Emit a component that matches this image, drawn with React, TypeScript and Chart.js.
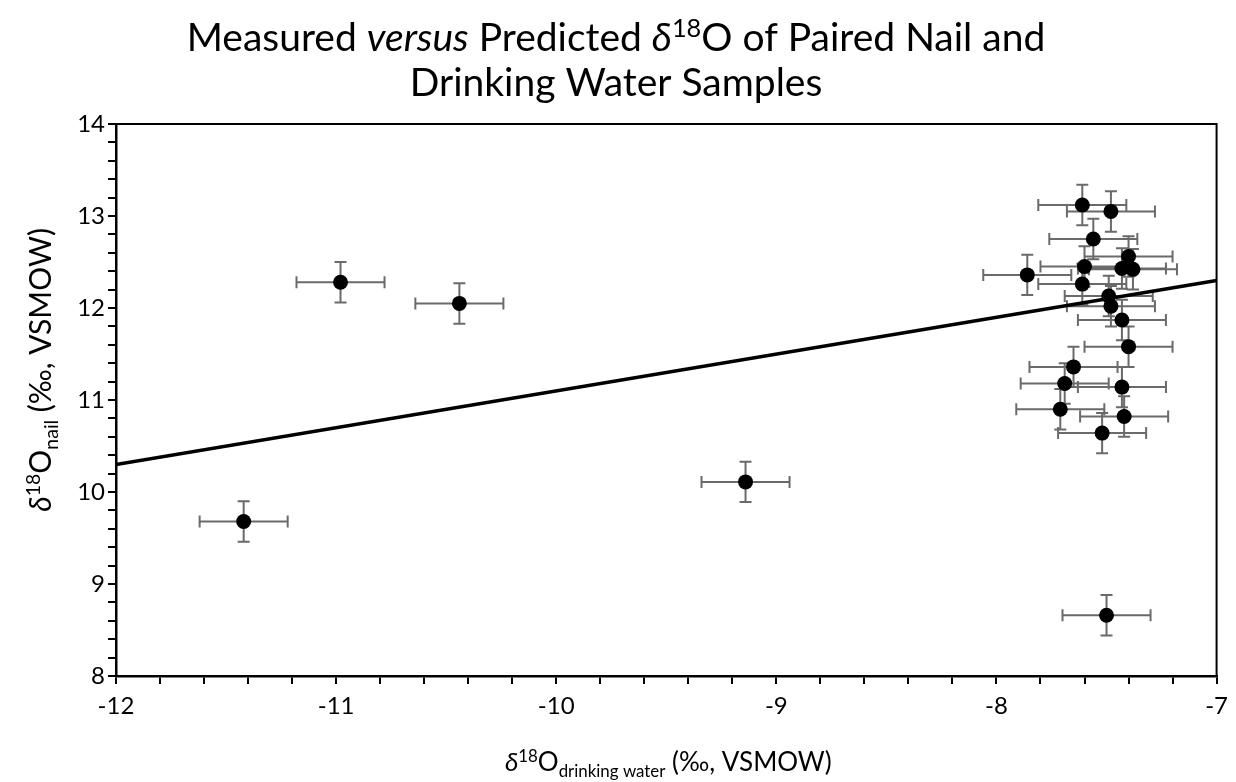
import { useEffect, useRef } from "react";
import { Chart, registerables } from "chart.js";

Chart.register(...registerables);

// Paired samples: drinking-water δ18O (x) and nail δ18O (y), ‰ VSMOW
const waterD18O = [
  -11.42, -10.98, -10.44, -9.14, -7.86, -7.61, -7.48, -7.56, -7.4, -7.6, -7.43, -7.38,
  -7.61, -7.49, -7.48, -7.43, -7.4, -7.65, -7.69, -7.43, -7.71, -7.42, -7.52, -7.5,
];
const nailD18O = [
  9.68, 12.28, 12.05, 10.11, 12.36, 13.12, 13.05, 12.75, 12.56, 12.45, 12.43, 12.42,
  12.26, 12.13, 12.02, 11.87, 11.58, 11.36, 11.18, 11.14, 10.9, 10.82, 10.64, 8.66,
];
// Analytical uncertainty (±1 SD)
const waterSD = 0.2;
const nailSD = 0.22;

// Predicted relationship, end points over the plotted range
const trendX = [-12, -7];
const trendY = [10.3, 12.3];

const xRange = [-12, -7];
const yRange = [8, 14];
const minorStep = 0.2;

const FONT = "Lato, 'Open Sans', 'DejaVu Sans', sans-serif";

type Seg = { t: string; italic?: boolean; mode?: "sup" | "sub" };

const titleLines: Seg[][] = [
  [
    { t: "Measured " },
    { t: "versus", italic: true },
    { t: " Predicted " },
    { t: "δ", italic: true },
    { t: "18", mode: "sup" },
    { t: "O of Paired Nail and" },
  ],
  [{ t: "Drinking Water Samples" }],
];
const xTitle: Seg[] = [
  { t: "δ", italic: true },
  { t: "18", mode: "sup" },
  { t: "O" },
  { t: "drinking water", mode: "sub" },
  { t: " (‰, VSMOW)" },
];
const yTitle: Seg[] = [
  { t: "δ", italic: true },
  { t: "18", mode: "sup" },
  { t: "O" },
  { t: "nail", mode: "sub" },
  { t: " (‰, VSMOW)" },
];

function segFont(seg: Seg, size: number) {
  const s = seg.mode ? size * 0.65 : size;
  return `${seg.italic ? "italic " : ""}${s}px ${FONT}`;
}

function richWidth(ctx: CanvasRenderingContext2D, segs: Seg[], size: number) {
  let w = 0;
  for (const s of segs) {
    ctx.font = segFont(s, size);
    w += ctx.measureText(s.t).width;
  }
  return w;
}

function drawRich(ctx: CanvasRenderingContext2D, segs: Seg[], size: number, cx: number, baseline: number) {
  let x = cx - richWidth(ctx, segs, size) / 2;
  ctx.textAlign = "left";
  ctx.textBaseline = "alphabetic";
  ctx.fillStyle = "#000";
  for (const s of segs) {
    ctx.font = segFont(s, size);
    let y = baseline;
    if (s.mode === "sup") y -= size * 0.36;
    if (s.mode === "sub") y += size * 0.22;
    ctx.fillText(s.t, x, y);
    x += ctx.measureText(s.t).width;
  }
}

const errorBars = {
  id: "errorBars",
  beforeDatasetsDraw(chart: any) {
    const { ctx, scales } = chart;
    const xs = scales.x;
    const ys = scales.y;
    const cap = 6;
    ctx.save();
    ctx.strokeStyle = "#6a6a6a";
    ctx.lineWidth = 2;
    ctx.beginPath();
    waterD18O.forEach((xv, i) => {
      const yv = nailD18O[i];
      const px = xs.getPixelForValue(xv);
      const py = ys.getPixelForValue(yv);
      const x0 = xs.getPixelForValue(xv - waterSD);
      const x1 = xs.getPixelForValue(xv + waterSD);
      const y0 = ys.getPixelForValue(yv - nailSD);
      const y1 = ys.getPixelForValue(yv + nailSD);
      ctx.moveTo(x0, py);
      ctx.lineTo(x1, py);
      ctx.moveTo(x0, py - cap);
      ctx.lineTo(x0, py + cap);
      ctx.moveTo(x1, py - cap);
      ctx.lineTo(x1, py + cap);
      ctx.moveTo(px, y0);
      ctx.lineTo(px, y1);
      ctx.moveTo(px - cap, y0);
      ctx.lineTo(px + cap, y0);
      ctx.moveTo(px - cap, y1);
      ctx.lineTo(px + cap, y1);
    });
    ctx.stroke();
    ctx.restore();
  },
};

const frameAndText = {
  id: "frameAndText",
  afterDraw(chart: any) {
    const { ctx, chartArea, width } = chart;
    ctx.save();
    ctx.strokeStyle = "#000";
    ctx.lineWidth = 2;
    ctx.beginPath();
    ctx.moveTo(chartArea.left, chartArea.top);
    ctx.lineTo(chartArea.right, chartArea.top);
    ctx.lineTo(chartArea.right, chartArea.bottom);
    ctx.stroke();

    drawRich(ctx, titleLines[0], 39, width / 2 - 2, 51);
    drawRich(ctx, titleLines[1], 39, width / 2 - 2, 96);

    const midX = (chartArea.left + chartArea.right) / 2;
    drawRich(ctx, xTitle, 26, midX + 2, 771);

    // y title hangs from just below the top of the plot
    const yw = richWidth(ctx, yTitle, 30);
    ctx.translate(51, chartArea.top + 104 + yw / 2);
    ctx.rotate(-Math.PI / 2);
    drawRich(ctx, yTitle, 30, 0, 0);
    ctx.restore();
  },
};

const isWhole = (v: number) => Math.abs(v - Math.round(v)) < 1e-6;

export default function App() {
  const ref = useRef<HTMLCanvasElement>(null);

  useEffect(() => {
    if (!ref.current) return;
    const chart = new Chart(ref.current, {
      type: "scatter",
      data: {
        datasets: [
          {
            type: "line",
            data: trendX.map((x, i) => ({ x, y: trendY[i] })),
            borderColor: "#000",
            borderWidth: 3.5,
            pointRadius: 0,
            showLine: true,
            fill: false,
          } as any,
          {
            data: waterD18O.map((x, i) => ({ x, y: nailD18O[i] })),
            backgroundColor: "#000",
            borderColor: "#000",
            borderWidth: 0,
            pointRadius: 7.5,
          },
        ],
      },
      options: {
        animation: false,
        responsive: false,
        layout: { padding: { top: 124, right: 19, left: 0, bottom: 0 } },
        plugins: {
          legend: { display: false },
          tooltip: { enabled: false },
          title: { display: false },
        },
        scales: {
          x: {
            type: "linear",
            min: xRange[0],
            max: xRange[1],
            afterFit: (s: any) => {
              s.height = 106;
            },
            border: { display: true, color: "#000", width: 2.5 },
            grid: {
              drawOnChartArea: false,
              drawTicks: true,
              tickLength: 8,
              color: "#000",
              lineWidth: 2,
            },
            ticks: {
              stepSize: minorStep,
              autoSkip: false,
              maxRotation: 0,
              padding: 8,
              color: "#000",
              font: { family: FONT, size: 24 },
              callback: (v: any) => (isWhole(Number(v)) ? String(Math.round(Number(v))) : ""),
            },
          },
          y: {
            type: "linear",
            min: yRange[0],
            max: yRange[1],
            afterFit: (s: any) => {
              s.width = 116;
            },
            border: { display: true, color: "#000", width: 2.5 },
            grid: {
              drawOnChartArea: false,
              drawTicks: true,
              tickLength: 8,
              color: "#000",
              lineWidth: 2,
            },
            ticks: {
              stepSize: minorStep,
              autoSkip: false,
              padding: 3,
              color: "#000",
              font: { family: FONT, size: 24 },
              callback: (v: any) => (isWhole(Number(v)) ? String(Math.round(Number(v))) : ""),
            },
          },
        },
      },
      plugins: [errorBars, frameAndText],
    });
    return () => chart.destroy();
  }, []);

  return (
    <div style={{ position: "absolute", left: 0, top: 0, width: 1236, height: 782, background: "#fff" }}>
      <canvas ref={ref} width={1236} height={782} style={{ display: "block" }} />
    </div>
  );
}
